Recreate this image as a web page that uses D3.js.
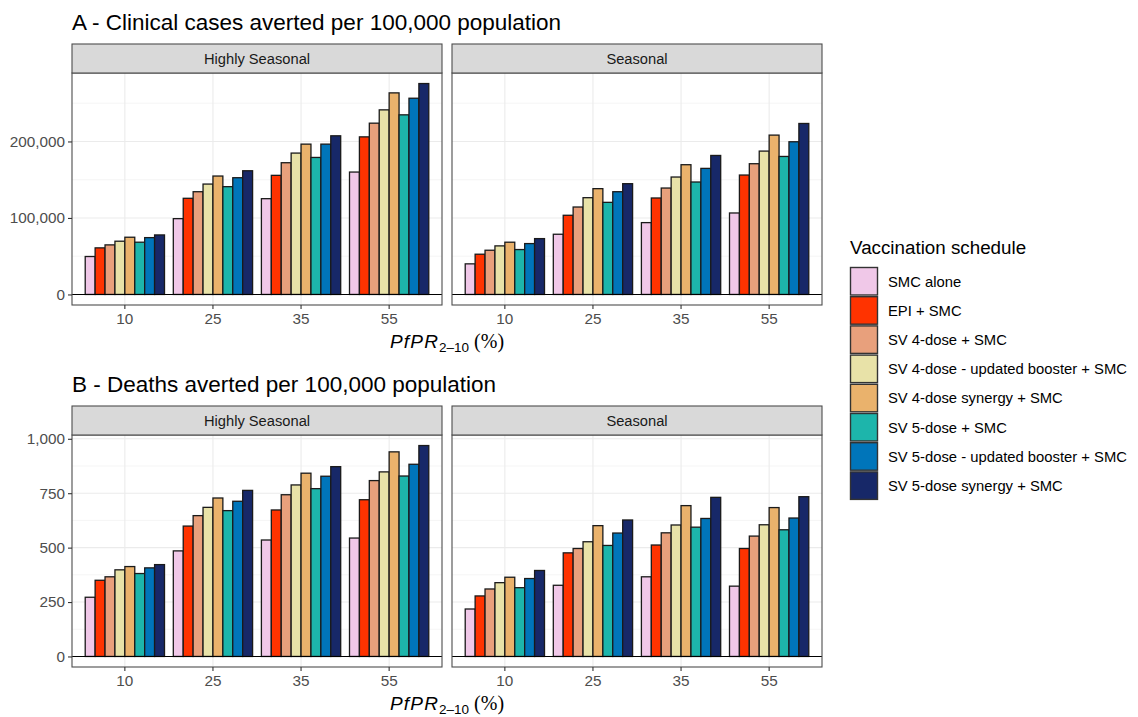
<!DOCTYPE html>
<html>
<head>
<meta charset="utf-8">
<script src="https://cdn.jsdelivr.net/npm/d3@7"></script>
<style>
  body { margin: 0; background: #fff; }
  svg { font-family: "Liberation Sans", Arial, sans-serif; }
</style>
</head>
<body>
<div id="chart"></div>
<script>
const prevalence = ['10', '25', '35', '55'];
const seasons = ['Highly Seasonal', 'Seasonal'];
const schedules = [
  'SMC alone',
  'EPI + SMC',
  'SV 4-dose + SMC',
  'SV 4-dose - updated booster + SMC',
  'SV 4-dose synergy + SMC',
  'SV 5-dose + SMC',
  'SV 5-dose - updated booster + SMC',
  'SV 5-dose synergy + SMC',
];
const colors = ['#f0c8e8', '#ff3300', '#e8a07c', '#e8e2a8', '#eab26c', '#1db5ab', '#0075ba', '#172868'];

// cases averted, rows = prevalence, cols = schedule
const casesHighly = [
  [49600, 60900, 64800, 69600, 74800, 68300, 74300, 77800],
  [99100, 125700, 134300, 144300, 154800, 140900, 152600, 161700],
  [125200, 155700, 172200, 184800, 196500, 179100, 196500, 207400],
  [160000, 206000, 223900, 241300, 263500, 234800, 256500, 275700],
];
const casesSeasonal = [
  [40000, 52600, 57800, 63500, 68300, 58700, 66500, 73000],
  [78700, 103500, 114300, 126500, 138300, 120400, 134300, 144800],
  [93900, 126100, 139100, 153500, 169600, 147000, 164800, 181700],
  [106500, 156100, 170900, 187400, 208300, 180400, 199600, 223500],
];
// deaths averted
const deathsHighly = [
  [272, 350, 366, 398, 413, 381, 407, 422],
  [485, 599, 647, 685, 728, 670, 713, 763],
  [535, 673, 743, 788, 842, 771, 828, 872],
  [544, 720, 808, 848, 940, 829, 883, 969],
];
const deathsSeasonal = [
  [218, 278, 310, 339, 364, 316, 358, 395],
  [327, 476, 496, 527, 601, 510, 567, 627],
  [366, 512, 568, 604, 693, 594, 634, 731],
  [323, 496, 553, 605, 684, 582, 636, 734],
];

const casesTicks = [0, 100000, 200000];
const casesMinor = [50000, 150000, 250000];
const deathsTicks = [0, 250, 500, 750, 1000];
const deathsMinor = [125, 375, 625, 875];

const W = 1138, H = 717;
const svg = d3.select('#chart').append('svg')
  .attr('width', W)
  .attr('height', H);

const panelX = [72, 452];
const panelW = 370;
const fmt = d3.format(',');

function toRows(matrix) {
  const rows = [];
  matrix.forEach((vals, i) => {
    vals.forEach((v, j) => rows.push({ prev: prevalence[i], sched: schedules[j], value: v, k: j }));
  });
  return rows;
}

function drawRow({ title, top, data, ticks, minor }) {
  const stripTop = top + 22;
  const stripH = 29;
  const plotTop = stripTop + stripH;
  const plotH = 232;

  svg.append('text')
    .attr('x', 72)
    .attr('y', top + 8)
    .attr('font-size', 22.5)
    .attr('fill', '#000')
    .text(title);

  const all = data.flatMap(m => m.flat());
  const maxV = d3.max(all);
  const y = d3.scaleLinear()
    .domain([-0.05 * maxV, 1.05 * maxV])
    .range([plotTop + plotH, plotTop]);

  data.forEach((matrix, p) => {
    const x0 = panelX[p];
    const x = d3.scaleBand()
      .domain(prevalence)
      .range([x0, x0 + panelW])
      .paddingInner(0.1)
      .paddingOuter(0.15);
    const xs = d3.scaleBand()
      .domain(schedules)
      .range([0, x.bandwidth()]);

    const g = svg.append('g');

    // background + grid
    g.append('rect')
      .attr('x', x0).attr('y', plotTop)
      .attr('width', panelW).attr('height', plotH)
      .attr('fill', '#fff');

    g.selectAll('.minor')
      .data(minor)
      .enter()
      .append('line')
        .attr('x1', x0).attr('x2', x0 + panelW)
        .attr('y1', d => y(d)).attr('y2', d => y(d))
        .attr('stroke', '#f2f2f2')
        .attr('stroke-width', 0.8);

    g.selectAll('.major')
      .data(ticks)
      .enter()
      .append('line')
        .attr('x1', x0).attr('x2', x0 + panelW)
        .attr('y1', d => y(d)).attr('y2', d => y(d))
        .attr('stroke', '#ebebeb')
        .attr('stroke-width', 1.1);

    g.selectAll('.vgrid')
      .data(prevalence)
      .enter()
      .append('line')
        .attr('x1', d => x(d) + x.bandwidth() / 2)
        .attr('x2', d => x(d) + x.bandwidth() / 2)
        .attr('y1', plotTop).attr('y2', plotTop + plotH)
        .attr('stroke', '#ebebeb')
        .attr('stroke-width', 1.1);

    // bars
    g.selectAll('.bar')
      .data(toRows(matrix))
      .enter()
      .append('rect')
        .attr('x', d => x(d.prev) + xs(d.sched))
        .attr('y', d => y(d.value))
        .attr('width', xs.bandwidth())
        .attr('height', d => y(0) - y(d.value))
        .attr('fill', d => colors[d.k])
        .attr('stroke', '#1a1a1a')
        .attr('stroke-width', 1.3);

    // zero line
    g.append('line')
      .attr('x1', x0).attr('x2', x0 + panelW)
      .attr('y1', y(0)).attr('y2', y(0))
      .attr('stroke', '#000')
      .attr('stroke-width', 1.1);

    // panel border
    g.append('rect')
      .attr('x', x0).attr('y', plotTop)
      .attr('width', panelW).attr('height', plotH)
      .attr('fill', 'none')
      .attr('stroke', '#4d4d4d')
      .attr('stroke-width', 1.1);

    // strip
    g.append('rect')
      .attr('x', x0).attr('y', stripTop)
      .attr('width', panelW).attr('height', stripH)
      .attr('fill', '#d9d9d9')
      .attr('stroke', '#4d4d4d')
      .attr('stroke-width', 1.1);
    g.append('text')
      .attr('x', x0 + panelW / 2)
      .attr('y', stripTop + stripH / 2)
      .attr('dy', '0.35em')
      .attr('text-anchor', 'middle')
      .attr('font-size', 14.7)
      .attr('fill', '#1a1a1a')
      .text(seasons[p]);

    // x axis
    const axisX = d3.axisBottom(x).tickSize(4).tickSizeOuter(0).tickPadding(4);
    const gx = g.append('g')
      .attr('transform', `translate(0, ${plotTop + plotH})`)
      .call(axisX);
    gx.select('.domain').remove();
    gx.selectAll('.tick line').attr('stroke', '#333').attr('stroke-width', 1.1);
    gx.selectAll('.tick text')
      .attr('font-size', 15.3)
      .attr('font-family', '"Liberation Sans", Arial, sans-serif')
      .attr('fill', '#4d4d4d');

    // y axis only on first panel
    if (p === 0) {
      const axisY = d3.axisLeft(y).tickValues(ticks).tickFormat(fmt)
        .tickSize(4).tickSizeOuter(0).tickPadding(3);
      const gy = g.append('g')
        .attr('transform', `translate(${x0}, 0)`)
        .call(axisY);
      gy.select('.domain').remove();
      gy.selectAll('.tick line').attr('stroke', '#333').attr('stroke-width', 1.1);
      gy.selectAll('.tick text')
        .attr('font-size', 15.3)
        .attr('font-family', '"Liberation Sans", Arial, sans-serif')
        .attr('fill', '#4d4d4d');
    }
  });

  // x axis title: PfPR_{2-10} (%)
  const t = svg.append('text')
    .attr('x', (panelX[0] + panelX[1] + panelW) / 2)
    .attr('y', plotTop + plotH + 43)
    .attr('text-anchor', 'middle')
    .attr('font-size', 19)
    .attr('fill', '#000');
  t.append('tspan').attr('font-style', 'italic').attr('letter-spacing', 1.2).text('PfPR');
  t.append('tspan').attr('font-size', 13.5).attr('dy', 4).text('2–10');
  t.append('tspan').attr('dy', -4).attr('font-family', '"Liberation Serif", "DejaVu Serif", serif')
    .attr('font-size', 20).text(' (%)');
}

drawRow({
  title: 'A - Clinical cases averted per 100,000 population',
  top: 22,
  data: [casesHighly, casesSeasonal],
  ticks: casesTicks,
  minor: casesMinor,
});

drawRow({
  title: 'B - Deaths averted per 100,000 population',
  top: 384,
  data: [deathsHighly, deathsSeasonal],
  ticks: deathsTicks,
  minor: deathsMinor,
});

// legend
const legend = svg.append('g').attr('transform', 'translate(850, 0)');
legend.append('text')
  .attr('x', 0)
  .attr('y', 254)
  .attr('font-size', 18.8)
  .attr('fill', '#000')
  .text('Vaccination schedule');

const keyStep = 29.2;
const keys = legend.selectAll('.key')
  .data(schedules)
  .enter()
  .append('g')
    .attr('transform', (d, i) => `translate(0, ${267 + i * keyStep})`);

keys.append('rect')
  .attr('x', 0.5).attr('y', 0.5)
  .attr('width', 27).attr('height', 27.5)
  .attr('fill', (d, i) => colors[i])
  .attr('stroke', '#333')
  .attr('stroke-width', 1.4);

keys.append('text')
  .attr('x', 38)
  .attr('y', 14.5)
  .attr('dy', '0.35em')
  .attr('font-size', 14.8)
  .attr('fill', '#000')
  .text(d => d);
</script>
</body>
</html>
